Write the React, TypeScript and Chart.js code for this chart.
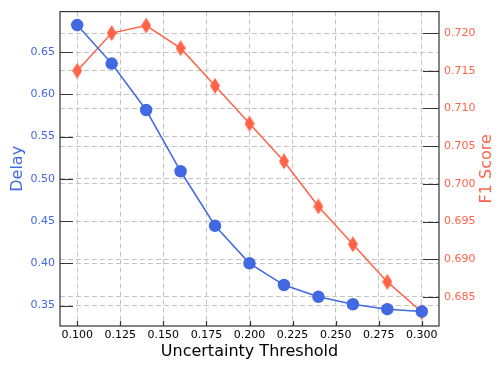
import React, { useEffect, useRef } from "react";
import { Chart, registerables } from "chart.js";

Chart.register(...registerables);

const thresholds = [0.1, 0.12, 0.14, 0.16, 0.18, 0.2, 0.22, 0.24, 0.26, 0.28, 0.3];
const delayValues = [0.682, 0.6365, 0.5815, 0.509, 0.4445, 0.4, 0.3743, 0.3604, 0.3516, 0.3457, 0.343];
const f1Values = [0.715, 0.72, 0.721, 0.718, 0.713, 0.708, 0.703, 0.697, 0.692, 0.687, 0.683];
const xTicks = [0.1, 0.125, 0.15, 0.175, 0.2, 0.225, 0.25, 0.275, 0.3];
const delayTicks = [0.35, 0.4, 0.45, 0.5, 0.55, 0.6, 0.65];
const f1Ticks = [0.685, 0.69, 0.695, 0.7, 0.705, 0.71, 0.715, 0.72];

const BLUE = "#4169E1";
const RED = "#FF6347";
const FONT = "'DejaVu Sans', sans-serif";

function makeThinDiamond(): HTMLCanvasElement {
  const c = document.createElement("canvas");
  const w = 10, h = 16;
  c.width = w;
  c.height = h;
  const ctx = c.getContext("2d")!;
  ctx.fillStyle = RED;
  ctx.beginPath();
  ctx.moveTo(w / 2, 0);
  ctx.lineTo(w, h / 2);
  ctx.lineTo(w / 2, h);
  ctx.lineTo(0, h / 2);
  ctx.closePath();
  ctx.fill();
  return c;
}

const framePlugin = {
  id: "frameTicks",
  beforeDatasetsDraw(chart: any) {
    const { ctx, chartArea: a, scales } = chart;
    ctx.save();
    ctx.strokeStyle = "#333";
    ctx.lineWidth = 1.2;
    ctx.beginPath();
    for (const v of delayTicks) {
      const y = Math.round(scales.y.getPixelForValue(v)) + 0.5;
      ctx.moveTo(a.left, y);
      ctx.lineTo(a.left + 13, y);
    }
    for (const v of f1Ticks) {
      const y = Math.round(scales.y1.getPixelForValue(v)) + 0.5;
      ctx.moveTo(a.right, y);
      ctx.lineTo(a.right - 16, y);
    }
    for (const v of xTicks) {
      const x = Math.round(scales.x.getPixelForValue(v)) + 0.5;
      ctx.moveTo(x, a.bottom);
      ctx.lineTo(x, a.bottom - 5);
    }
    ctx.stroke();
    ctx.strokeRect(a.left, a.top, a.right - a.left, a.bottom - a.top);
    ctx.restore();
  },
  afterDraw(chart: any) {
    const { ctx, chartArea: a } = chart;
    ctx.save();
    ctx.translate(487, (a.top + a.bottom) / 2);
    ctx.rotate(-Math.PI / 2);
    ctx.fillStyle = RED;
    ctx.font = `16px ${FONT}`;
    ctx.textAlign = "center";
    ctx.textBaseline = "middle";
    ctx.fillText("F1 Score", 0, 0);
    ctx.restore();
  },
};

export default function App() {
  const ref = useRef<HTMLCanvasElement>(null);
  useEffect(() => {
    const diamond = makeThinDiamond();
    const gridOpts = {
      color: "#c4c4c4",
      lineWidth: 1,
      drawTicks: false,
    };
    const borderOpts = { display: false, dash: [5, 3] };
    const chart = new Chart(ref.current!, {
      type: "line",
      data: {
        datasets: [
          {
            label: "Delay",
            data: thresholds.map((t, i) => ({ x: t, y: delayValues[i] })),
            borderColor: BLUE,
            backgroundColor: BLUE,
            pointBackgroundColor: BLUE,
            pointBorderColor: BLUE,
            pointRadius: 5.5,
            borderWidth: 1.5,
            yAxisID: "y",
          },
          {
            label: "F1 Score",
            data: thresholds.map((t, i) => ({ x: t, y: f1Values[i] })),
            borderColor: RED,
            backgroundColor: RED,
            pointStyle: diamond as any,
            borderWidth: 1.5,
            yAxisID: "y1",
          },
        ],
      },
      options: {
        animation: false,
        responsive: false,
        layout: { padding: { top: 3, left: 0, right: 0, bottom: 0 } },
        plugins: { legend: { display: false }, tooltip: { enabled: false } },
        scales: {
          x: {
            type: "linear",
            min: 0.09,
            max: 0.31,
            afterBuildTicks: (s: any) => {
              s.ticks = xTicks.map((v) => ({ value: v }));
            },
            afterFit: (s: any) => {
              s.height = 40;
            },
            grid: gridOpts,
            border: borderOpts,
            ticks: {
              padding: 3,
              color: "#000",
              font: { family: FONT, size: 11 },
              callback: (v: any) => Number(v).toFixed(3),
              maxRotation: 0,
              autoSkip: false,
            },
            title: {
              display: true,
              text: "Uncertainty Threshold",
              color: "#000",
              font: { family: FONT, size: 16 },
              padding: { top: 0, bottom: 5 },
            },
          },
          y: {
            type: "linear",
            position: "left",
            min: 0.3258,
            max: 0.698,
            afterBuildTicks: (s: any) => {
              s.ticks = delayTicks.map((v) => ({ value: v }));
            },
            afterFit: (s: any) => {
              s.width = 60;
            },
            grid: gridOpts,
            border: borderOpts,
            ticks: {
              padding: 5,
              color: BLUE,
              font: { family: FONT, size: 11 },
              callback: (v: any) => Number(v).toFixed(2),
              autoSkip: false,
            },
            title: {
              display: true,
              text: "Delay",
              color: BLUE,
              font: { family: FONT, size: 16 },
              padding: { top: 8, bottom: 0 },
            },
          },
          y1: {
            type: "linear",
            position: "right",
            min: 0.68115,
            max: 0.72285,
            afterBuildTicks: (s: any) => {
              s.ticks = f1Ticks.map((v) => ({ value: v }));
            },
            afterFit: (s: any) => {
              s.width = 59;
            },
            grid: gridOpts,
            border: borderOpts,
            ticks: {
              padding: 5,
              color: RED,
              font: { family: FONT, size: 11 },
              callback: (v: any) => Number(v).toFixed(3),
              autoSkip: false,
            },
            title: { display: false },
          },
        },
      },
      plugins: [framePlugin],
    });
    return () => chart.destroy();
  }, []);
  return (
    <div style={{ position: "fixed", left: 0, top: 0, width: 498, height: 366, background: "#fff" }}>
      <canvas ref={ref} width={498} height={366} style={{ display: "block" }} />
    </div>
  );
}
